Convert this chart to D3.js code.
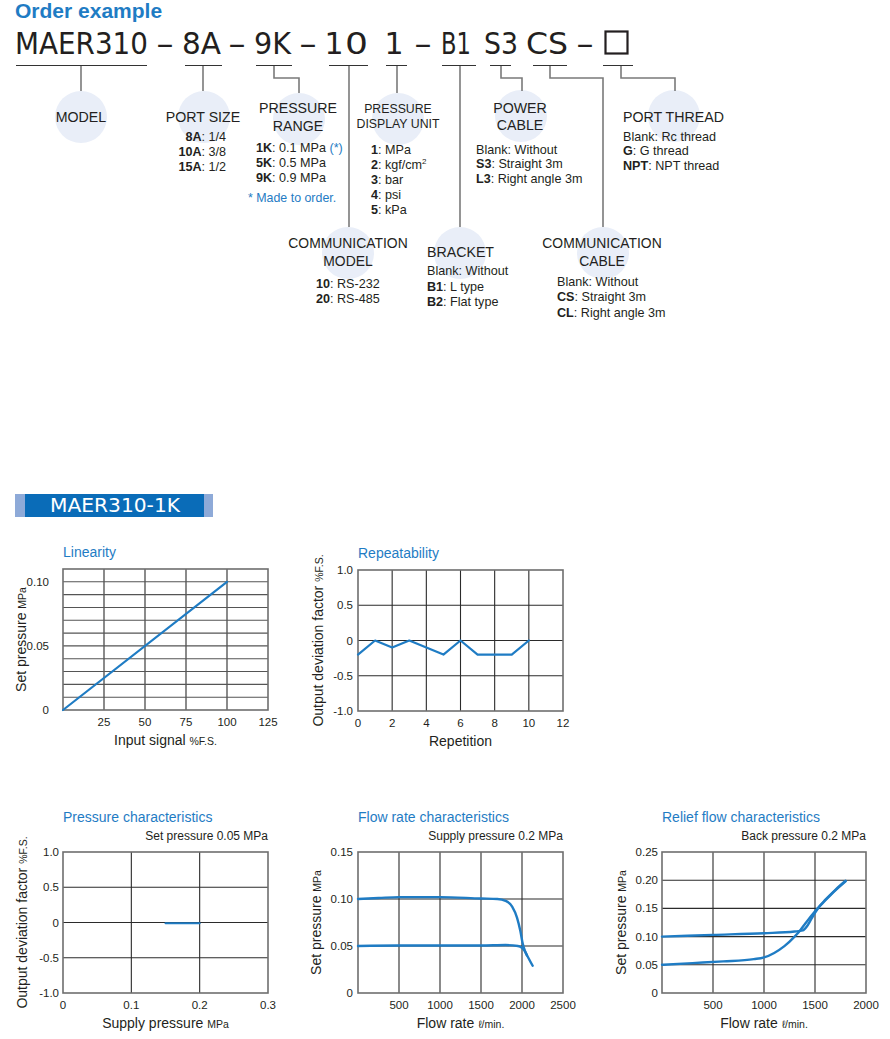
<!DOCTYPE html>
<html lang="en">
<head>
<meta charset="UTF-8">
<title>MAER310 order example and characteristics</title>
<script src="https://d3js.org/d3.v7.min.js"></script>
<style>
  body { margin: 0; background: #fff; }
  svg { display: block; font-family: "Liberation Sans", Arial, sans-serif; }
</style>
</head>
<body>
<svg id="page" width="890" height="1039"></svg>
<script>
// ---------- order code data ----------
const codeParts = ["MAER310", "–", "8A", "–", "9K", "–", "1", "0", "1", "–", "B1", "S3", "CS", "–"];
const fieldLabels = [["MODEL"], ["PORT SIZE"], ["PRESSURE", "RANGE"], ["PRESSURE", "DISPLAY UNIT"],
  ["POWER", "CABLE"], ["PORT THREAD"], ["COMMUNICATION", "MODEL"], ["BRACKET"], ["COMMUNICATION", "CABLE"]];
const portSizes = [["8A", "1/4"], ["10A", "3/8"], ["15A", "1/2"]];
const pressureRanges = [["1K", "0.1 MPa"], ["5K", "0.5 MPa"], ["9K", "0.9 MPa"]];
const displayUnits = [["1", "MPa"], ["2", "kgf/cm"], ["3", "bar"], ["4", "psi"], ["5", "kPa"]];
const powerCables = [["", "Blank: Without"], ["S3", "Straight 3m"], ["L3", "Right angle 3m"]];
const portThreads = [["", "Blank: Rc thread"], ["G", "G thread"], ["NPT", "NPT thread"]];
const commModels = [["10", "RS-232"], ["20", "RS-485"]];
const brackets = [["", "Blank: Without"], ["B1", "L type"], ["B2", "Flat type"]];
const commCables = [["", "Blank: Without"], ["CS", "Straight 3m"], ["CL", "Right angle 3m"]];

// ---------- chart data ----------
const linearity = [[0, 0], [100, 0.1]];
const repetition = [0, 1, 2, 3, 4, 5, 6, 7, 8, 9, 10];
const repeatDeviation = [-0.2, 0, -0.1, 0, -0.1, -0.2, 0, -0.2, -0.2, -0.2, 0];
const pressureChar = [[0.15, -0.01], [0.2, -0.01]];
const flowUpper = [[0, 0.100], [250, 0.101], [500, 0.102], [1000, 0.102], [1500, 0.1005], [1700, 0.100],
  [1800, 0.098], [1880, 0.092], [1940, 0.080], [1980, 0.066], [2010, 0.052], [2040, 0.044], [2080, 0.037], [2130, 0.029]];
const flowLower = [[0, 0.050], [500, 0.0505], [1000, 0.0505], [1500, 0.0505], [1800, 0.051], [1950, 0.050],
  [2000, 0.048], [2030, 0.045], [2060, 0.040]];
const reliefUpper = [[0, 0.100], [500, 0.103], [1000, 0.106], [1300, 0.109], [1380, 0.111], [1420, 0.118],
  [1460, 0.130], [1500, 0.142], [1550, 0.155], [1600, 0.165], [1700, 0.183], [1800, 0.199]];
const reliefLower = [[0, 0.050], [300, 0.053], [600, 0.056], [900, 0.060], [1000, 0.063], [1100, 0.071],
  [1200, 0.083], [1300, 0.100], [1350, 0.110], [1400, 0.122], [1500, 0.145], [1600, 0.164], [1700, 0.182], [1800, 0.198]];

const BLUE = "#1f7cc4";
const svg = d3.select("#page");

// ---------- header ----------
svg.append("text").attr("x", 15).attr("y", 18)
  .style("font-size", "21px").style("font-weight", "bold").attr("fill", BLUE)
  .text("Order example");

// code line: centre and fitted width of each piece
const codeX = [81.5, 165, 201.5, 237, 272.5, 308, 334, 356.5, 394, 423, 456, 501, 547, 585];
const codeW = [133, 17, 39, 17, 37, 17, 0, 23, 0, 17, 30, 34, 42, 17];
svg.selectAll(".code").data(codeParts).join("text")
  .attr("class", "code")
  .attr("x", (d, i) => codeX[i]).attr("y", 54)
  .attr("text-anchor", "middle")
  .style("font-family", "'DejaVu Sans', sans-serif")
  .style("font-size", "30px").attr("fill", "#231f20")
  .each(function (d, i) {
    if (codeW[i]) d3.select(this).attr("textLength", codeW[i]).attr("lengthAdjust", "spacingAndGlyphs");
  })
  .text(d => d);
svg.append("rect").attr("x", 605.5).attr("y", 31.5).attr("width", 22).attr("height", 22)
  .attr("fill", "none").attr("stroke", "#231f20").attr("stroke-width", 2.2);

const underlines = [[16, 147], [185, 222], [256, 292], [329, 368], [386, 407], [442, 476], [490, 511], [533, 567], [603, 633]];
svg.selectAll(".ul").data(underlines).join("line")
  .attr("x1", d => d[0]).attr("x2", d => d[1]).attr("y1", 65.5).attr("y2", 65.5)
  .attr("stroke", "#333").attr("stroke-width", 1);

// field layout: circle, connector, label position/size
const fieldLayout = [
  { c: [81, 117], path: [[81, 66], [81, 91]], lx: 81, ly: [117], fs: 14.2, anchor: "middle" },
  { c: [204, 117], path: [[203, 66], [203, 91]], lx: 203, ly: [117], fs: 14.2, anchor: "middle" },
  { c: [299, 119], path: [[274, 66], [274, 78], [299, 78], [299, 93]], lx: 298, ly: [108, 126], fs: 14.2, anchor: "middle" },
  { c: [398, 119], path: [[397, 66], [397, 93]], lx: 398, ly: [109, 124], fs: 12.3, anchor: "middle" },
  { c: [521, 116], path: [[501, 66], [501, 78], [522, 78], [522, 91]], lx: 520, ly: [108, 125], fs: 14.2, anchor: "middle" },
  { c: [674, 116], path: [[621, 66], [621, 78], [675, 78], [675, 91]], lx: 623, ly: [117], fs: 14.2, anchor: "start" },
  { c: [348, 253], path: [[349, 66], [349, 227]], lx: 348, ly: [243, 261], fs: 13.9, anchor: "middle" },
  { c: [460, 253], path: [[460, 66], [460, 227]], lx: 427, ly: [252], fs: 14.2, anchor: "start" },
  { c: [603, 253], path: [[550, 66], [550, 78], [603, 78], [603, 227]], lx: 602, ly: [243, 261], fs: 13.9, anchor: "middle" }
];

svg.selectAll(".fc").data(fieldLayout).join("circle")
  .attr("cx", d => d.c[0]).attr("cy", d => d.c[1]).attr("r", 26).attr("fill", "#e9eef8");
svg.selectAll(".conn").data(fieldLayout).join("path")
  .attr("d", d => d3.line()(d.path)).attr("fill", "none")
  .attr("stroke", "#7a7a7a").attr("stroke-width", 1.6);
fieldLayout.forEach((f, i) => {
  fieldLabels[i].forEach((line, j) => {
    svg.append("text").attr("x", f.lx).attr("y", f.ly[j]).attr("dy", "0.35em")
      .attr("text-anchor", f.anchor).style("font-size", f.fs + "px").attr("fill", "#231f20")
      .text(line);
  });
});

// option lists
function optionList(items, x, ys, anchor, extra) {
  items.forEach((it, i) => {
    const t = svg.append("text").attr("x", x).attr("y", ys[i]).attr("dy", "0.35em")
      .attr("text-anchor", anchor || "start").style("font-size", "12.6px").attr("fill", "#231f20");
    if (it[0]) {
      t.append("tspan").style("font-weight", "bold").text(it[0]);
      t.append("tspan").text(": " + it[1]);
    } else {
      t.append("tspan").text(it[1]);
    }
    if (extra) extra(t, i);
  });
}
optionList(portSizes, 226, [137, 152, 167], "end");
optionList(pressureRanges, 256, [148, 163, 178], "start", (t, i) => {
  if (i === 0) t.append("tspan").attr("fill", BLUE).text(" (*)");
});
svg.append("text").attr("x", 248).attr("y", 198).attr("dy", "0.35em")
  .style("font-size", "12.4px").attr("fill", BLUE).text("* Made to order.");
optionList(displayUnits, 371, [150, 165, 180, 195, 210], "start", (t, i) => {
  if (i === 1) t.append("tspan").attr("dy", "-5").style("font-size", "8px").text("2");
});
optionList(powerCables, 476, [150, 164, 179]);
optionList(portThreads, 623, [137, 151, 166]);
optionList(commModels, 316, [284, 299]);
optionList(brackets, 427, [271, 287, 302]);
optionList(commCables, 557, [282, 297, 313]);

// ---------- banner ----------
svg.append("rect").attr("x", 15).attr("y", 494).attr("width", 198).attr("height", 23).attr("fill", "#8eaad8");
svg.append("rect").attr("x", 25).attr("y", 494).attr("width", 179).attr("height", 23).attr("fill", "#0a6cb8");
svg.append("text").attr("x", 115).attr("y", 505.5).attr("dy", "0.35em").attr("text-anchor", "middle")
  .style("font-family", "'DejaVu Sans', sans-serif").style("font-size", "19px").attr("fill", "#fff")
  .attr("textLength", 130).attr("lengthAdjust", "spacingAndGlyphs")
  .text("MAER310-1K");

// ---------- charts ----------
function drawChart(o) {
  const g = svg.append("g");
  const x = d3.scaleLinear().domain(o.xDomain).range([o.L, o.R]);
  const y = d3.scaleLinear().domain(o.yDomain).range([o.B, o.T]);

  g.selectAll(".vg").data(o.xGrid).join("line")
    .attr("x1", d => x(d)).attr("x2", d => x(d)).attr("y1", o.T).attr("y2", o.B)
    .attr("stroke", "#2b2b2b").attr("stroke-width", 1.1);
  g.selectAll(".hg").data(o.yGrid).join("line")
    .attr("x1", o.L).attr("x2", o.R).attr("y1", d => y(d)).attr("y2", d => y(d))
    .attr("stroke", o.hColor || "#2b2b2b").attr("stroke-width", 1.1);
  g.append("rect").attr("x", o.L).attr("y", o.T).attr("width", o.R - o.L).attr("height", o.B - o.T)
    .attr("fill", "none").attr("stroke", "#6e6e6e").attr("stroke-width", 1.6);

  // tick labels
  g.selectAll(".xt").data(o.xTicks).join("text")
    .attr("x", d => x(d)).attr("y", o.B + 12).attr("dy", "0.35em").attr("text-anchor", "middle")
    .style("font-size", "11.5px").attr("fill", "#231f20")
    .text((d, i) => o.xTickLabels[i]);
  g.selectAll(".yt").data(o.yTicks).join("text")
    .attr("x", o.L - o.yOff).attr("y", d => y(d)).attr("dy", "0.35em").attr("text-anchor", "end")
    .style("font-size", "11.5px").attr("fill", "#231f20")
    .text((d, i) => o.yTickLabels[i]);

  // curves
  const line = d3.line().x(d => x(d[0])).y(d => y(d[1])).curve(o.curve || d3.curveLinear);
  o.series.forEach(s => {
    g.append("path").attr("d", line(s)).attr("fill", "none")
      .attr("stroke", BLUE).attr("stroke-width", o.sw || 2.3)
      .attr("stroke-linejoin", "round").attr("stroke-linecap", "round");
  });

  // titles
  g.append("text").attr("x", o.L).attr("y", o.T - 17 - (o.sub ? 18 : 0)).attr("dy", "0.35em")
    .style("font-size", "14px").attr("fill", BLUE).text(o.title);
  if (o.sub) {
    g.append("text").attr("x", o.R).attr("y", o.T - 16).attr("dy", "0.35em").attr("text-anchor", "end")
      .style("font-size", "12px").attr("fill", "#231f20").text(o.sub);
  }

  // axis labels
  const xl = g.append("text").attr("x", (o.L + o.R) / 2).attr("y", o.B + 30).attr("dy", "0.35em")
    .attr("text-anchor", "middle").style("font-size", "14px").attr("fill", "#231f20");
  xl.append("tspan").text(o.xLabel[0]);
  xl.append("tspan").style("font-size", "10.5px").text(o.xLabel[1]);
  const yl = g.append("text").attr("transform", `translate(${o.yLabelX},${(o.T + o.B) / 2}) rotate(-90)`)
    .attr("dy", "0.35em").attr("text-anchor", "middle").style("font-size", "14px").attr("fill", "#231f20");
  yl.append("tspan").text(o.yLabel[0]);
  yl.append("tspan").style("font-size", "10.5px").text(o.yLabel[1]);
}

drawChart({
  L: 63, R: 268, T: 569, B: 710, xDomain: [0, 125], yDomain: [0, 0.11],
  xGrid: [25, 50, 75, 100], yGrid: d3.range(1, 11).map(d => d / 100), hColor: "#555",
  xTicks: [25, 50, 75, 100, 125], xTickLabels: ["25", "50", "75", "100", "125"],
  yTicks: [0, 0.05, 0.1], yTickLabels: ["0", "0.05", "0.10"], yOff: 14,
  series: [linearity], sw: 2.2,
  title: "Linearity", xLabel: ["Input signal ", "%F.S."], yLabel: ["Set pressure ", "MPa"], yLabelX: 21
});

drawChart({
  L: 358, R: 563, T: 570, B: 711, xDomain: [0, 12], yDomain: [-1, 1],
  xGrid: [2, 4, 6, 8, 10], yGrid: [-0.5, 0, 0.5],
  xTicks: [0, 2, 4, 6, 8, 10, 12], xTickLabels: ["0", "2", "4", "6", "8", "10", "12"],
  yTicks: [-1, -0.5, 0, 0.5, 1], yTickLabels: ["-1.0", "-0.5", "0", "0.5", "1.0"], yOff: 5,
  series: [repetition.map((r, i) => [r, repeatDeviation[i]])], sw: 2.2,
  title: "Repeatability", xLabel: ["Repetition", ""], yLabel: ["Output deviation factor ", "%F.S."], yLabelX: 318
});

drawChart({
  L: 63, R: 268, T: 852, B: 993, xDomain: [0, 0.3], yDomain: [-1, 1],
  xGrid: [0.1, 0.2], yGrid: [-0.5, 0, 0.5],
  xTicks: [0, 0.1, 0.2, 0.3], xTickLabels: ["0", "0.1", "0.2", "0.3"],
  yTicks: [-1, -0.5, 0, 0.5, 1], yTickLabels: ["-1.0", "-0.5", "0", "0.5", "1.0"], yOff: 4,
  series: [pressureChar], sw: 2,
  title: "Pressure characteristics", sub: "Set pressure 0.05 MPa",
  xLabel: ["Supply pressure ", "MPa"], yLabel: ["Output deviation factor ", "%F.S."], yLabelX: 22
});

drawChart({
  L: 358, R: 563, T: 852, B: 993, xDomain: [0, 2500], yDomain: [0, 0.15],
  xGrid: [500, 1000, 1500, 2000], yGrid: [0.05, 0.1],
  xTicks: [500, 1000, 1500, 2000, 2500], xTickLabels: ["500", "1000", "1500", "2000", "2500"],
  yTicks: [0, 0.05, 0.1, 0.15], yTickLabels: ["0", "0.05", "0.10", "0.15"], yOff: 5,
  series: [flowUpper, flowLower], curve: d3.curveMonotoneX, sw: 2.4,
  title: "Flow rate characteristics", sub: "Supply pressure 0.2 MPa",
  xLabel: ["Flow rate ", "ℓ/min."], yLabel: ["Set pressure ", "MPa"], yLabelX: 316
});

drawChart({
  L: 662, R: 866, T: 852, B: 993, xDomain: [0, 2000], yDomain: [0, 0.25],
  xGrid: [500, 1000, 1500], yGrid: [0.05, 0.1, 0.15, 0.2],
  xTicks: [500, 1000, 1500, 2000], xTickLabels: ["500", "1000", "1500", "2000"],
  yTicks: [0, 0.05, 0.1, 0.15, 0.2, 0.25], yTickLabels: ["0", "0.05", "0.10", "0.15", "0.20", "0.25"], yOff: 4,
  series: [reliefUpper, reliefLower], curve: d3.curveMonotoneX, sw: 2.4,
  title: "Relief flow characteristics", sub: "Back pressure 0.2 MPa",
  xLabel: ["Flow rate ", "ℓ/min."], yLabel: ["Set pressure ", "MPa"], yLabelX: 621
});
</script>
</body>
</html>
